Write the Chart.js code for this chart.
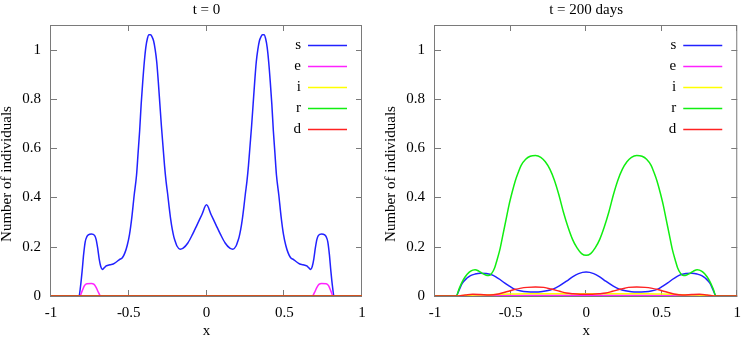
<!DOCTYPE html>
<html>
<head>
<meta charset="utf-8">
<title>SEIRD profiles</title>
<script src="https://cdn.jsdelivr.net/npm/chart.js@4/dist/chart.umd.min.js"></script>
<style>
  html, body { margin: 0; padding: 0; background: #fff; }
  #wrap { position: relative; width: 749px; height: 339px; }
  .panel { position: absolute; top: 0; height: 339px; }
  #left { left: 0; width: 375px; }
  #right { left: 375px; width: 374px; }
</style>
</head>
<body>
<div id="wrap">
  <div class="panel" id="left"><canvas id="chartT0" width="375" height="339"></canvas></div>
  <div class="panel" id="right"><canvas id="chartT200" width="374" height="339"></canvas></div>
</div>
<script>
// series names and tick values
const seriesNames = ['s', 'e', 'i', 'r', 'd'];
const xTickValues = [-1, -0.5, 0, 0.5, 1];
const yTickValues = [0, 0.2, 0.4, 0.6, 0.8, 1];

// t = 0, [x, value] pairs
const sT0 = [[-1,0],[-0.82,0],[-0.81,0.04],[-0.80,0.10],[-0.79,0.17],[-0.78,0.22],[-0.77,0.24],[-0.76,0.248],
  [-0.74,0.252],[-0.72,0.246],[-0.71,0.23],[-0.70,0.195],[-0.69,0.15],[-0.68,0.12],[-0.67,0.108],[-0.66,0.113],
  [-0.645,0.122],[-0.62,0.127],[-0.60,0.13],[-0.58,0.138],[-0.56,0.148],[-0.54,0.156],[-0.525,0.175],[-0.51,0.205],
  [-0.495,0.25],[-0.48,0.32],[-0.465,0.41],[-0.45,0.49],[-0.44,0.58],[-0.43,0.67],[-0.42,0.78],[-0.41,0.87],
  [-0.40,0.95],[-0.39,1.01],[-0.38,1.045],[-0.37,1.06],[-0.36,1.06],[-0.35,1.052],[-0.34,1.035],[-0.33,1.0],
  [-0.32,0.95],[-0.31,0.87],[-0.30,0.78],[-0.29,0.69],[-0.28,0.61],[-0.27,0.53],[-0.26,0.465],[-0.25,0.415],
  [-0.24,0.36],[-0.23,0.31],[-0.22,0.27],[-0.21,0.24],[-0.20,0.22],[-0.19,0.203],[-0.17,0.19],[-0.15,0.194],
  [-0.12,0.215],[-0.09,0.25],[-0.06,0.29],[-0.03,0.33],[0,0.37],
  [0.03,0.33],[0.06,0.29],[0.09,0.25],[0.12,0.215],[0.15,0.194],[0.17,0.19],[0.19,0.203],[0.20,0.22],
  [0.21,0.24],[0.22,0.27],[0.23,0.31],[0.24,0.36],[0.25,0.415],[0.26,0.465],[0.27,0.53],[0.28,0.61],
  [0.29,0.69],[0.30,0.78],[0.31,0.87],[0.32,0.95],[0.33,1.0],[0.34,1.035],[0.35,1.052],[0.36,1.06],
  [0.37,1.06],[0.38,1.045],[0.39,1.01],[0.40,0.95],[0.41,0.87],[0.42,0.78],[0.43,0.67],[0.44,0.58],
  [0.45,0.49],[0.465,0.41],[0.48,0.32],[0.495,0.25],[0.51,0.205],[0.525,0.175],[0.54,0.156],[0.56,0.148],
  [0.58,0.138],[0.60,0.13],[0.62,0.127],[0.645,0.122],[0.66,0.113],[0.67,0.108],[0.68,0.12],[0.69,0.15],
  [0.70,0.195],[0.71,0.23],[0.72,0.246],[0.74,0.252],[0.76,0.248],[0.77,0.24],[0.78,0.22],[0.79,0.17],
  [0.80,0.10],[0.81,0.04],[0.82,0],[1,0]];
const eT0 = [[-1,0],[-0.815,0],[-0.80,0.02],[-0.785,0.042],[-0.77,0.05],[-0.74,0.051],[-0.725,0.048],
  [-0.71,0.035],[-0.695,0.015],[-0.68,0],[0.68,0],[0.695,0.015],[0.71,0.035],[0.725,0.048],[0.74,0.051],
  [0.77,0.05],[0.785,0.042],[0.80,0.02],[0.815,0],[1,0]];
const iT0 = [[-1,0],[1,0]];
const rT0 = [[-1,0],[1,0]];
const dT0 = [[-1,0],[1,0]];

// t = 200 days
const sT200 = [[-1,0],[-0.86,0],[-0.84,0.025],[-0.82,0.051],[-0.79,0.072],[-0.765,0.083],[-0.735,0.089],
  [-0.70,0.092],[-0.66,0.091],[-0.63,0.087],[-0.60,0.079],[-0.57,0.067],[-0.54,0.053],[-0.505,0.039],
  [-0.475,0.028],[-0.43,0.02],[-0.39,0.017],[-0.34,0.016],[-0.30,0.017],[-0.26,0.021],[-0.22,0.028],
  [-0.18,0.04],[-0.13,0.06],[-0.09,0.078],[-0.05,0.091],[0,0.097],
  [0.05,0.091],[0.09,0.078],[0.13,0.06],[0.18,0.04],[0.22,0.028],[0.26,0.021],[0.30,0.017],[0.34,0.016],
  [0.39,0.017],[0.43,0.02],[0.475,0.028],[0.505,0.039],[0.54,0.053],[0.57,0.067],[0.60,0.079],[0.63,0.087],
  [0.66,0.091],[0.70,0.092],[0.735,0.089],[0.765,0.083],[0.79,0.072],[0.82,0.051],[0.84,0.025],[0.86,0],[1,0]];
const eT200 = [[-1,0],[-0.86,0],[-0.60,0.002],[0,0.003],[0.60,0.002],[0.86,0],[1,0]];
const iT200 = [[-1,0],[-0.86,0],[-0.78,0.003],[-0.70,0.004],[-0.60,0.006],[-0.50,0.008],[-0.40,0.009],
  [-0.20,0.009],[0,0.009],[0.20,0.009],[0.40,0.009],[0.50,0.008],[0.60,0.006],[0.70,0.004],[0.78,0.003],
  [0.86,0],[1,0]];
const rT200 = [[-1,0],[-0.86,0],[-0.84,0.03],[-0.82,0.057],[-0.80,0.078],[-0.775,0.096],[-0.75,0.105],
  [-0.735,0.107],[-0.71,0.101],[-0.69,0.093],[-0.665,0.085],[-0.645,0.083],[-0.625,0.092],[-0.605,0.115],
  [-0.59,0.145],[-0.57,0.19],[-0.55,0.25],[-0.53,0.31],[-0.51,0.37],[-0.49,0.42],[-0.47,0.465],[-0.45,0.50],
  [-0.43,0.53],[-0.40,0.555],[-0.37,0.567],[-0.335,0.570],[-0.30,0.563],[-0.27,0.545],[-0.24,0.515],
  [-0.21,0.47],[-0.18,0.41],[-0.15,0.34],[-0.12,0.28],[-0.09,0.23],[-0.06,0.195],[-0.03,0.172],[0,0.165],
  [0.03,0.172],[0.06,0.195],[0.09,0.23],[0.12,0.28],[0.15,0.34],[0.18,0.41],[0.21,0.47],[0.24,0.515],
  [0.27,0.545],[0.30,0.563],[0.335,0.570],[0.37,0.567],[0.40,0.555],[0.43,0.53],[0.45,0.50],[0.47,0.465],
  [0.49,0.42],[0.51,0.37],[0.53,0.31],[0.55,0.25],[0.57,0.19],[0.59,0.145],[0.605,0.115],[0.625,0.092],
  [0.645,0.083],[0.665,0.085],[0.69,0.093],[0.71,0.101],[0.735,0.107],[0.75,0.105],[0.775,0.096],
  [0.80,0.078],[0.82,0.057],[0.84,0.03],[0.86,0],[1,0]];
const dT200 = [[-1,0],[-0.86,0],[-0.80,0.004],[-0.75,0.007],[-0.70,0.006],[-0.64,0.004],[-0.58,0.008],
  [-0.52,0.018],[-0.475,0.026],[-0.43,0.032],[-0.39,0.035],[-0.335,0.037],[-0.28,0.035],[-0.23,0.028],
  [-0.175,0.019],[-0.13,0.012],[-0.09,0.009],[-0.04,0.007],[0,0.007],[0.04,0.007],[0.09,0.009],[0.13,0.012],
  [0.175,0.019],[0.23,0.028],[0.28,0.035],[0.335,0.037],[0.39,0.035],[0.43,0.032],[0.475,0.026],[0.52,0.018],
  [0.58,0.008],[0.64,0.004],[0.70,0.006],[0.75,0.007],[0.80,0.004],[0.86,0],[1,0]];

// styling
const lineColors = ['#2222ff', '#ff22ff', '#ffff00', '#11ee11', '#ff2222'];
const fontFamily = "'Liberation Serif', 'DejaVu Serif', serif";
const frameColor = '#7a7a7a';

// frame, inward ticks, y title and key drawn the gnuplot way
const gnuplotLook = {
    id: 'gnuplotLook',
    beforeDatasetsDraw(chart) {
        const {ctx, chartArea: a, scales} = chart;
        const tick = 6;
        ctx.save();
        ctx.strokeStyle = frameColor;
        ctx.lineWidth = 1;
        ctx.beginPath();
        xTickValues.forEach(v => {
            const px = Math.round(scales.x.getPixelForValue(v)) - 0.5;
            ctx.moveTo(px, a.bottom); ctx.lineTo(px, a.bottom - tick);
            ctx.moveTo(px, a.top); ctx.lineTo(px, a.top + tick);
        });
        yTickValues.forEach(v => {
            const py = Math.round(scales.y.getPixelForValue(v)) + 0.5;
            ctx.moveTo(a.left, py); ctx.lineTo(a.left + tick, py);
            ctx.moveTo(a.right, py); ctx.lineTo(a.right - tick, py);
        });
        ctx.stroke();
        ctx.strokeRect(a.left - 0.5, a.top + 0.5, a.right - a.left, a.bottom - a.top);
        ctx.restore();
    },
    afterDraw(chart) {
        const {ctx, chartArea: a} = chart;
        ctx.save();
        ctx.fillStyle = '#000';
        ctx.font = '15px ' + fontFamily;
        // y axis title
        ctx.save();
        ctx.translate(a.left - 44, 174);
        ctx.rotate(-Math.PI / 2);
        ctx.textAlign = 'center';
        ctx.textBaseline = 'middle';
        ctx.fillText('Number of individuals', 0, 0);
        ctx.restore();
        // key
        ctx.textAlign = 'right';
        ctx.textBaseline = 'middle';
        ctx.lineWidth = 1.5;
        chart.data.datasets.forEach((ds, k) => {
            const y = Math.round(a.top + 19.5 + 21.2 * k) + 0.5;
            ctx.fillText(ds.label, a.right - 61, y);
            ctx.strokeStyle = ds.borderColor;
            ctx.beginPath();
            ctx.moveTo(a.right - 54, y);
            ctx.lineTo(a.right - 15, y);
            ctx.stroke();
        });
        ctx.restore();
    }
};

function makeDatasets(seriesList) {
    return seriesList.map((pairs, k) => ({
        label: seriesNames[k],
        data: pairs.map(p => ({x: p[0], y: p[1]})),
        borderColor: lineColors[k],
        borderWidth: 1.5,
        pointRadius: 0,
        fill: false,
        cubicInterpolationMode: 'monotone',
        order: seriesList.length - k
    }));
}

function makeChart(canvasId, titleText, seriesList, yAxisWidth, padRight) {
    const ctx = document.getElementById(canvasId).getContext('2d');
    return new Chart(ctx, {
        type: 'line',
        data: { datasets: makeDatasets(seriesList) },
        plugins: [gnuplotLook],
        options: {
            responsive: false,
            animation: false,
            layout: { padding: { left: 0, right: padRight, top: 0, bottom: 0 } },
            plugins: {
                legend: { display: false },
                tooltip: { enabled: false },
                title: {
                    display: true,
                    text: titleText,
                    fullSize: false,
                    color: '#000',
                    font: { family: fontFamily, size: 15, weight: 'normal', lineHeight: 1.2 },
                    padding: { top: 1, bottom: 6 }
                }
            },
            scales: {
                x: {
                    type: 'linear',
                    min: -1,
                    max: 1,
                    afterBuildTicks: s => { s.ticks = xTickValues.map(v => ({value: v})); },
                    afterFit: s => { s.height = 43; },
                    grid: { display: false, drawTicks: false },
                    border: { display: false },
                    ticks: {
                        color: '#000',
                        font: { family: fontFamily, size: 15, lineHeight: 1.2 },
                        padding: 8,
                        maxRotation: 0,
                        autoSkip: false,
                        callback: v => String(v)
                    },
                    title: {
                        display: true,
                        text: 'x',
                        color: '#000',
                        font: { family: fontFamily, size: 15, lineHeight: 1 },
                        padding: 0
                    }
                },
                y: {
                    type: 'linear',
                    min: 0,
                    max: 1.1,
                    afterBuildTicks: s => { s.ticks = yTickValues.map(v => ({value: v})); },
                    afterFit: s => { s.width = yAxisWidth; },
                    grid: { display: false, drawTicks: false },
                    border: { display: false },
                    ticks: {
                        color: '#000',
                        font: { family: fontFamily, size: 15, lineHeight: 1.2 },
                        padding: 10,
                        autoSkip: false,
                        callback: v => String(v)
                    }
                }
            }
        }
    });
}

makeChart('chartT0', 't = 0', [sT0, eT0, iT0, rT0, dT0], 51, 13);
makeChart('chartT200', 't = 200 days', [sT200, eT200, iT200, rT200, dT200], 60, 3);
</script>
</body>
</html>
